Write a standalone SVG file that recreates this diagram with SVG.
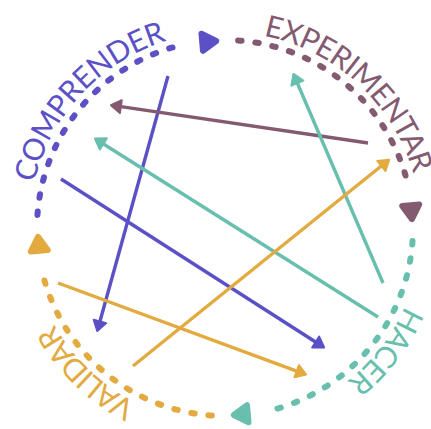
<svg xmlns="http://www.w3.org/2000/svg" width="431" height="429" viewBox="0 0 431 429">
<style>
.lbl{font-family:Lato,"Liberation Sans",sans-serif;font-size:30px;font-weight:400;}
.dots{fill:none;stroke-width:6;stroke-linecap:round;stroke-dasharray:3.5 13.84;}
.tri{stroke-width:6;stroke-linejoin:round;}
.conn{fill:none;stroke-width:3.4;}
.p{stroke:#5b50c5;}
.m{stroke:#835a70;}
.t{stroke:#68bfae;}
.g{stroke:#e2aa3f;}
</style>
<defs>
<path id="ring" d="M 421 228 A 196 196 0 1 1 29 228 A 196 196 0 1 1 421 228"/>
<marker id="ah-p" viewBox="-8 -9 16 18" refX="0" refY="0" markerWidth="16" markerHeight="18" markerUnits="userSpaceOnUse" orient="auto"><path d="M -5 -6.5 L 5 0 L -5 6.5 Z" fill="#5b50c5" stroke="#5b50c5" stroke-width="2" stroke-linejoin="round"/></marker>
<marker id="ah-m" viewBox="-8 -9 16 18" refX="0" refY="0" markerWidth="16" markerHeight="18" markerUnits="userSpaceOnUse" orient="auto"><path d="M -5 -6.5 L 5 0 L -5 6.5 Z" fill="#835a70" stroke="#835a70" stroke-width="2" stroke-linejoin="round"/></marker>
<marker id="ah-t" viewBox="-8 -9 16 18" refX="0" refY="0" markerWidth="16" markerHeight="18" markerUnits="userSpaceOnUse" orient="auto"><path d="M -5 -6.5 L 5 0 L -5 6.5 Z" fill="#68bfae" stroke="#68bfae" stroke-width="2" stroke-linejoin="round"/></marker>
<marker id="ah-g" viewBox="-8 -9 16 18" refX="0" refY="0" markerWidth="16" markerHeight="18" markerUnits="userSpaceOnUse" orient="auto"><path d="M -5 -6.5 L 5 0 L -5 6.5 Z" fill="#e2aa3f" stroke="#e2aa3f" stroke-width="2" stroke-linejoin="round"/></marker>
<polygon id="tri" points="-8.5,-6.5 8.5,-6.5 0,7.5"/>
</defs>

<g id="comprender">
<path class="dots p" d="M 37.46 214.89 A 188 188 0 0 1 185.91 44.11"/>
<use href="#tri" class="tri p" fill="#5b50c5" transform="rotate(265 225 228) translate(412 228)"/>
<text class="lbl" fill="#5b50c5"><textPath href="#ring" startOffset="661" textLength="203" lengthAdjust="spacing">COMPRENDER</textPath></text>
</g>

<g id="experimentar">
<path class="dots m" d="M 238.11 40.46 A 188 188 0 0 1 408.89 188.91"/>
<use href="#tri" class="tri m" fill="#835a70" transform="rotate(355 225 228) translate(412 228)"/>
<text class="lbl" fill="#835a70"><textPath href="#ring" startOffset="962" textLength="214" lengthAdjust="spacing">EXPERIMENTAR</textPath></text>
</g>

<g id="hacer">
<path class="dots t" d="M 412.54 241.11 A 188 188 0 0 1 264.09 411.89"/>
<use href="#tri" class="tri t" fill="#68bfae" transform="rotate(85 225 228) translate(412 228)"/>
<text class="lbl" fill="#68bfae"><textPath href="#ring" startOffset="80" textLength="96" lengthAdjust="spacing">HACER</textPath></text>
</g>

<g id="validar">
<path class="dots g" d="M 211.89 415.54 A 188 188 0 0 1 41.11 267.09"/>
<use href="#tri" class="tri g" fill="#e2aa3f" transform="rotate(175 225 228) translate(412 228)"/>
<text class="lbl" fill="#e2aa3f"><textPath href="#ring" startOffset="400" textLength="115" lengthAdjust="spacing">VALIDAR</textPath></text>
</g>

<g id="connectors">
<line class="conn p" x1="168" y1="76" x2="98.6" y2="326.2" marker-end="url(#ah-p)"/>
<line class="conn p" x1="61" y1="179" x2="319.9" y2="344.8" marker-end="url(#ah-p)"/>
<line class="conn m" x1="368" y1="143" x2="115.9" y2="105.9" marker-end="url(#ah-m)"/>
<line class="conn t" x1="383" y1="283" x2="295.4" y2="78.5" marker-end="url(#ah-t)"/>
<line class="conn t" x1="378" y1="317" x2="99.1" y2="141.2" marker-end="url(#ah-t)"/>
<line class="conn g" x1="133" y1="366" x2="385.3" y2="162.8" marker-end="url(#ah-g)"/>
<line class="conn g" x1="58" y1="283" x2="301.4" y2="372.9" marker-end="url(#ah-g)"/>
</g>
</svg>
